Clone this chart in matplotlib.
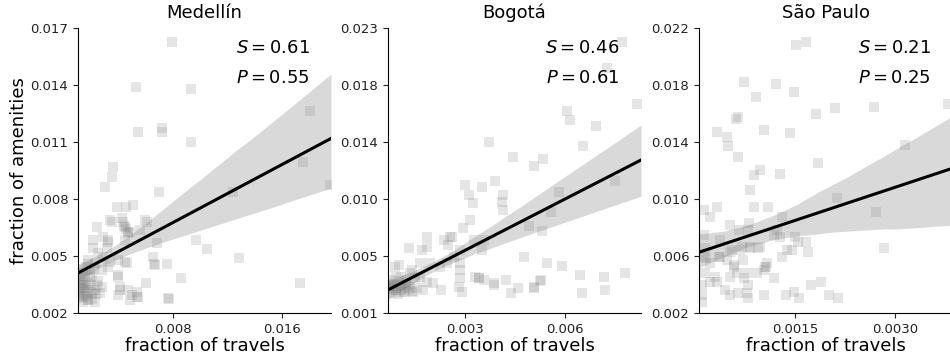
import numpy as np
import matplotlib
matplotlib.use("Agg")
import matplotlib.pyplot as plt
from matplotlib.ticker import FormatStrFormatter, FixedLocator

cities = ["Medellín", "Bogotá", "São Paulo"]
spearman = [0.61, 0.46, 0.21]
pearson = [0.55, 0.61, 0.25]

# regression line (in units of 1e-3): y = intercept + slope * x
fit_intercept = [3.70, 1.98, 6.17]
fit_slope = [0.382, 1.286, 1.548]

# values in units of 1e-3 (fraction of travels, fraction of amenities)
med_x = np.array([7.93, 5.31, 9.32, 5.43, 7.24, 7.24, 9.32, 18.03, 17.54, 19.55, 12.45, 3.60, 3.52, 3.03,
                  6.99, 9.69, 10.5, 12.82, 17.35, 8.61, 7.75, 7.56, 6.02, 6.59, 6.83, 6.09, 5.09, 4.57,
                  3.89, 4.43, 4.70, 5.60, 3.40, 2.42, 2.91, 3.27, 4.62, 4.01, 4.13, 5.01, 5.45,
                  3.52, 4.38, 4.50, 4.74, 5.97, 2.17, 2.17, 3.27, 3.16, 4.50, 4.87, 2.54, 2.91, 1.81,
                  2.30, 3.40, 4.01, 4.50, 6.58, 6.70, 1.32, 1.93, 1.56, 2.06, 2.79, 3.27, 4.01, 1.32,
                  1.81, 2.42, 2.79, 4.13, 4.74, 5.36, 1.32, 2.06, 2.66, 1.81, 2.30, 1.44, 4.01, 4.87,
                  5.36, 7.68, 1.20, 1.20, 1.20,
                  1.50, 1.70, 2.00, 1.40, 1.90, 2.20, 1.60, 2.50, 1.25, 2.30, 1.10, 1.10, 1.80, 4.30, 4.60,
                  1.15, 1.35, 1.55, 1.75, 1.95, 1.25, 1.45, 1.65, 2.10, 2.40, 1.30, 1.60])
med_y = np.array([16.28, 13.88, 13.80, 11.54, 11.75, 11.54, 11.01, 12.64, 9.93, 8.73, 8.38, 9.70, 9.17, 8.64,
                  8.38, 5.84, 5.35, 4.91, 3.59, 3.82, 2.72, 4.56, 3.56, 4.58, 5.67, 6.80, 7.68, 7.58,
                  7.58, 6.58, 6.19, 6.37, 6.89, 6.54, 6.01, 5.84, 4.61, 3.91, 3.21, 2.95, 2.84,
                  6.80, 6.80, 6.54, 6.28, 6.89, 5.84, 5.41, 5.75, 5.41, 5.84, 6.28, 5.14, 4.96, 4.79,
                  4.62, 4.70, 4.79, 4.70, 4.96, 4.53, 4.26, 4.26, 3.91, 4.00, 4.26, 4.44, 4.00, 3.38,
                  3.56, 3.47, 3.38, 3.38, 3.21, 3.12, 2.86, 3.04, 3.04, 2.68, 2.59, 2.59, 2.95, 2.68,
                  2.86, 2.77, 3.12, 3.74, 4.09,
                  3.30, 3.00, 3.50, 4.10, 3.90, 4.30, 4.40, 3.70, 3.50, 3.20, 2.90, 3.60, 4.60, 7.00, 6.40,
                  3.00, 2.80, 3.20, 2.70, 3.10, 3.30, 3.60, 2.90, 2.75, 3.00, 3.90, 3.45])

bog_x = np.array([7.73, 7.26, 8.16, 6.05, 6.15, 6.93, 6.54, 3.70, 4.44, 5.08, 5.34, 2.98, 3.10, 3.50, 3.88,
                  4.12, 4.09, 4.12, 3.23, 3.15, 2.92, 5.82, 5.57, 4.91, 5.31, 7.51, 4.78, 5.47, 5.92, 6.44,
                  7.18, 7.82, 5.27, 6.52, 7.22, 4.58, 4.36, 5.08, 3.86, 3.55, 3.40, 3.28, 3.55, 3.50, 3.25,
                  2.60, 2.35, 1.84, 1.84, 1.69, 1.30, 2.85, 2.85, 2.85, 2.85, 2.65, 2.45, 2.25, 1.94, 1.64,
                  0.99, 1.40, 1.64, 1.84, 2.28, 2.03, 2.80, 2.90, 1.33, 1.73, 1.43, 0.77, 0.92, 1.07, 1.22,
                  0.92, 0.72, 0.87, 1.07, 1.33, 1.48, 2.53, 2.48, 3.40, 3.86, 4.21, 5.06, 5.26,
                  0.80, 0.95, 1.10, 1.25, 0.70, 1.00, 1.15, 1.55, 0.85, 1.20,
                  0.68, 0.75, 0.90, 1.05, 1.18, 1.38, 0.82, 0.98, 1.28, 0.70])
bog_y = np.array([21.57, 19.56, 16.87, 16.34, 15.66, 15.21, 13.72, 13.98, 12.85, 12.21, 12.72, 10.76, 10.0,
                  10.58, 11.06, 10.0, 9.50, 8.87, 9.38, 8.12, 7.49, 10.2, 8.74, 7.69, 7.29, 11.06, 5.35,
                  4.85, 4.65, 3.97, 3.84, 4.14, 3.59, 2.63, 2.84, 2.96, 2.59, 2.96, 3.21, 3.59, 3.72, 3.84,
                  6.61, 5.85, 6.61, 6.86, 6.61, 6.86, 6.10, 5.85, 5.98, 5.85, 4.85, 4.35, 3.72, 5.35, 4.85,
                  4.60, 4.85, 4.85, 4.72, 4.34, 3.84, 3.46, 2.84, 3.34, 3.08, 2.71, 3.08, 2.84, 2.71, 3.59,
                  3.84, 3.21, 3.34, 2.84, 3.08, 4.59, 3.84, 4.10, 3.72, 6.86, 6.23, 3.72, 3.34, 3.59, 3.04,
                  3.53,
                  3.30, 3.10, 2.95, 3.20, 3.40, 3.50, 2.70, 3.00, 3.25, 3.60,
                  2.90, 2.60, 2.80, 2.65, 2.85, 2.75, 3.00, 2.55, 2.90, 3.15])

sp_x = np.array([1.52, 1.67, 0.74, 1.22, 1.49, 0.92, 2.10, 2.69, 3.80, 1.81, 0.64, 0.61, 0.33, 0.48, 0.50,
                 1.03, 1.42, 0.64, 1.85, 0.98, 0.89, 1.28, 0.83, 3.16, 2.14, 2.72, 2.84, 0.13, 0.22, 0.33,
                 0.89, 1.09, 1.31, 0.52, 0.66, 0.81, 0.79, 0.13, 0.15, 0.13, 0.37, 0.55, 0.37, 0.70, 0.83,
                 0.95, 1.23, 1.18, 1.28, 1.50, 1.54, 1.66, 1.69, 1.38, 1.31, 0.22, 0.30, 0.33, 0.22, 0.15,
                 0.48, 0.58, 0.53, 0.63, 0.78, 0.73, 0.80, 0.78, 0.93, 1.06, 1.08, 1.03, 1.18, 0.45, 0.53,
                 0.65, 0.80, 0.11, 0.10, 0.11, 1.03, 1.36, 1.49, 1.56, 1.74, 1.89, 2.02, 2.15,
                 1.45, 0.16, 0.36, 0.52, 0.67, 0.82, 0.97, 0.59, 0.72, 1.05])
sp_y = np.array([20.81, 21.04, 18.19, 18.05, 17.53, 17.18, 16.37, 16.44, 16.67, 15.94, 15.73, 15.59, 14.72,
                 14.37, 13.74, 14.84, 14.65, 12.97, 12.51, 12.04, 11.69, 11.76, 10.63, 13.79, 10.05, 9.07,
                 6.54, 9.23, 8.76, 9.42, 9.42, 9.42, 8.76, 8.18, 7.82, 8.30, 7.82, 7.47, 6.54, 5.95, 7.12,
                 6.42, 5.95, 6.65, 6.65, 6.54, 7.82, 7.47, 7.35, 7.35, 7.00, 7.00, 6.30, 6.42, 5.95, 5.49,
                 4.55, 4.20, 4.20, 4.79, 5.72, 5.25, 4.55, 4.79, 4.79, 4.44, 3.97, 3.38, 4.79, 5.25, 5.49,
                 5.02, 4.44, 3.61, 3.26, 3.38, 3.03, 3.97, 3.26, 2.79, 3.26, 3.26, 3.49, 3.03, 3.97, 4.20,
                 3.26, 3.03,
                 6.42, 5.84, 5.91, 6.30, 6.42, 6.54, 6.61, 5.37, 5.72, 5.25])

xs = [med_x * 1e-3, bog_x * 1e-3, sp_x * 1e-3]
ys = [med_y * 1e-3, bog_y * 1e-3, sp_y * 1e-3]

xlims = [(0.00105, 0.0196), (0.00067, 0.00829), (0.00006, 0.00386)]
ylims = [(0.002, 0.017), (0.0011, 0.0226), (0.002, 0.022)]
xticks = [[0.008, 0.016], [0.003, 0.006], [0.0015, 0.0030]]
xfmts = ['%.3f', '%.3f', '%.4f']

fig = plt.figure(figsize=(9.5, 3.64), dpi=100)
lefts = [78, 388, 699]
width = 253
rng = np.random.default_rng(1)

for i in range(3):
    ax = fig.add_axes([lefts[i] / 950, 1 - 313 / 364, width / 950, 285 / 364])
    x, y = xs[i], ys[i]
    ax.scatter(x, y, marker='s', s=55, color='gray', alpha=0.2, linewidths=0, zorder=2)
    n = len(x)
    grid = np.linspace(xlims[i][0], xlims[i][1], 200)
    # regression line from the chart's fit values
    line = (fit_intercept[i] + fit_slope[i] * grid * 1e3) * 1e-3
    # bootstrapped 95% band of the scatter's own linear fit, centred on that line
    b1, b0 = np.polyfit(x, y, 1)
    own = b1 * grid + b0
    boots = []
    for _ in range(1000):
        idx = rng.integers(0, n, n)
        c1, c0 = np.polyfit(x[idx], y[idx], 1)
        boots.append(c1 * grid + c0)
    lo, hi = np.percentile(np.array(boots), [2.5, 97.5], axis=0)
    ax.fill_between(grid, line + (lo - own), line + (hi - own), color='black', alpha=0.15,
                    linewidth=0, zorder=1)
    ax.plot(grid, line, color='black', lw=2.2, zorder=3)

    ax.set_xlim(*xlims[i])
    ax.set_ylim(*ylims[i])
    ax.yaxis.set_major_locator(FixedLocator(np.linspace(ylims[i][0], ylims[i][1], 6)))
    ax.yaxis.set_major_formatter(FormatStrFormatter('%.3f'))
    ax.xaxis.set_major_locator(FixedLocator(xticks[i]))
    ax.xaxis.set_major_formatter(FormatStrFormatter(xfmts[i]))
    ax.tick_params(labelsize=9.5, colors='#222222')
    for sp in ['top', 'right']:
        ax.spines[sp].set_visible(False)
    ax.set_title(cities[i], fontsize=13, pad=7)
    ax.set_xlabel('fraction of travels', fontsize=13, labelpad=1)
    if i == 0:
        ax.set_ylabel('fraction of amenities', fontsize=13, labelpad=2)
    ax.text(0.915, 0.93, r'$S = %.2f$' % spearman[i], transform=ax.transAxes,
            ha='right', va='center', fontsize=13)
    ax.text(0.915, 0.825, r'$P = %.2f$' % pearson[i], transform=ax.transAxes,
            ha='right', va='center', fontsize=13)

fig.savefig('out.png', dpi=100)
